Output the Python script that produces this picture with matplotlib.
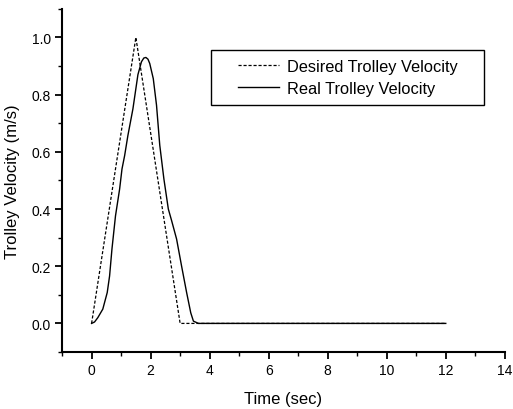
#!/usr/bin/env python3
"""Desired vs. real trolley velocity."""

import matplotlib

matplotlib.use("Agg")
import matplotlib.pyplot as plt
from matplotlib.patches import Rectangle
from matplotlib.ticker import MultipleLocator

# desired profile: triangular reference
desired_t = [0.0, 1.5, 3.0, 12.0]
desired_v = [0.0, 1.0, 0.0, 0.0]

# real profile
real_t = [0.0, 0.1, 0.21, 0.38, 0.53, 0.61, 0.69, 0.81, 0.95, 1.03, 1.12,
          1.23, 1.4, 1.57, 1.69, 1.77, 1.84, 1.91, 1.97, 2.09, 2.2, 2.31,
          2.45, 2.6, 2.71, 2.88, 3.05, 3.22, 3.36, 3.45, 3.62, 12.0]
real_v = [0.0, 0.005, 0.02, 0.05, 0.108, 0.166, 0.26, 0.376, 0.47, 0.54,
          0.587, 0.657, 0.75, 0.87, 0.915, 0.928, 0.93, 0.924, 0.909, 0.856,
          0.763, 0.623, 0.505, 0.40, 0.36, 0.295, 0.20, 0.108, 0.037, 0.008,
          0.0, 0.0]

x_ticks = [0, 2, 4, 6, 8, 10, 12, 14]
y_ticks = [0.0, 0.2, 0.4, 0.6, 0.8, 1.0]


def main():
    plt.rcParams.update(
        {
            "font.family": ["Liberation Sans", "DejaVu Sans"],
            "font.size": 10,
        }
    )
    fig = plt.figure(figsize=(5.13, 4.10), dpi=100)
    ax = fig.add_axes([0.121, 0.139, 0.863, 0.837])

    ax.plot(desired_t, desired_v, color="black", linestyle=(0, (2.5, 1.5)),
            linewidth=0.9, label="Desired Trolley Velocity")
    ax.plot(real_t, real_v, color="black", linestyle="-", linewidth=1.0,
            label="Real Trolley Velocity")

    ax.set_xlim(-1, 14)
    ax.set_ylim(-0.1, 1.1)
    ax.set_xticks(x_ticks)
    ax.set_yticks(y_ticks)
    ax.set_yticklabels([f"{v:.1f}" for v in y_ticks])
    ax.xaxis.set_minor_locator(MultipleLocator(1))
    ax.yaxis.set_minor_locator(MultipleLocator(0.1))
    ax.tick_params(which="major", direction="out", length=5, width=1.3,
                   labelsize=10, pad=3)
    ax.tick_params(which="minor", direction="out", length=3, width=1.0)

    ax.spines[["top", "right"]].set_visible(False)
    ax.spines["left"].set_linewidth(1.5)
    ax.spines["bottom"].set_linewidth(1.5)

    ax.set_xlabel("Time (sec)", fontsize=12, labelpad=10)
    ax.set_ylabel("Trolley Velocity (m/s)", fontsize=12, labelpad=8)

    # legend box is wider than its content, so draw the frame by hand
    ax.add_patch(Rectangle((0.336, 0.720), 0.617, 0.160,
                           transform=ax.transAxes, fill=False,
                           edgecolor="black", linewidth=1.0, zorder=4))
    ax.legend(loc="center left", bbox_to_anchor=(0.397, 0.800),
              borderaxespad=0, borderpad=0, fontsize=11.8, frameon=False,
              handlelength=2.5, handletextpad=0.5, labelspacing=0.4)

    fig.savefig("out.png", dpi=100)
    plt.close(fig)


if __name__ == "__main__":
    main()
